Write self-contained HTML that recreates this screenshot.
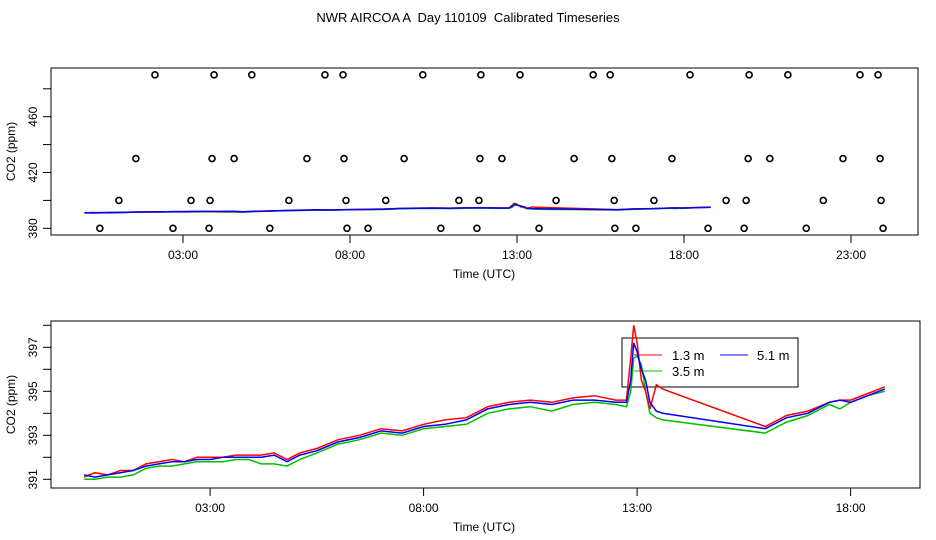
<!DOCTYPE html>
<html><head><meta charset="utf-8"><style>
body{margin:0;background:#fff;}
svg{display:block;font-family:"Liberation Sans",sans-serif;}
</style></head><body>
<svg id="c" width="936" height="540" xmlns="http://www.w3.org/2000/svg">
<rect width="936" height="540" fill="#fff"/>
<text x="468" y="22" font-size="13" text-anchor="middle" style="white-space:pre">NWR AIRCOA A  Day 110109  Calibrated Timeseries</text>
<g id="topPanel"></g>
<g id="botPanel"></g>
</svg>
<script>
const times=[0.05,0.3,0.6,0.9,1.2,1.5,1.8,2.1,2.4,2.7,3.0,3.3,3.6,3.9,4.2,4.5,4.8,5.1,5.5,6.0,6.5,7.0,7.5,8.0,8.5,9.0,9.5,10.0,10.5,11.0,11.5,12.0,12.5,12.75,12.85,12.92,13.0,13.1,13.2,13.3,13.45,13.6,16.0,16.5,17.0,17.5,17.75,18.0,18.4,18.8];
const red=[391.1,391.3,391.2,391.4,391.4,391.7,391.8,391.9,391.8,392.0,392.0,392.0,392.1,392.1,392.1,392.2,391.9,392.2,392.4,392.8,393.0,393.3,393.2,393.5,393.7,393.8,394.3,394.5,394.6,394.5,394.7,394.8,394.6,394.6,396.5,398.0,397.2,395.5,395.0,394.2,395.3,395.1,393.4,393.9,394.1,394.5,394.6,394.6,394.9,395.2];
const blue=[391.2,391.1,391.2,391.3,391.4,391.6,391.7,391.8,391.8,391.9,391.9,392.0,392.0,392.0,392.0,392.1,391.8,392.1,392.3,392.7,392.9,393.2,393.1,393.4,393.5,393.7,394.2,394.4,394.5,394.4,394.6,394.6,394.5,394.5,395.5,397.2,396.8,396.0,395.5,394.5,394.1,394.0,393.3,393.8,394.0,394.5,394.6,394.5,394.8,395.1];
const green=[391.0,391.0,391.1,391.1,391.2,391.5,391.6,391.6,391.7,391.8,391.8,391.8,391.9,391.9,391.7,391.7,391.6,391.9,392.2,392.6,392.8,393.1,393.0,393.3,393.4,393.5,394.0,394.2,394.3,394.1,394.4,394.5,394.4,394.3,395.0,396.5,396.6,396.2,395.0,394.0,393.8,393.7,393.1,393.6,393.9,394.4,394.2,394.5,394.8,395.0];
const dotT490=[2.16,3.93,5.06,7.25,7.79,10.18,11.92,13.09,15.28,15.79,18.18,19.95,21.11,23.27,23.81];
const dotT430=[1.59,3.87,4.53,6.71,7.82,9.62,11.89,12.55,14.71,15.84,17.64,19.92,20.57,22.76,23.87];
const dotT400=[1.08,3.24,3.81,6.17,7.88,9.07,11.26,11.86,14.17,15.91,17.1,19.26,19.86,22.17,23.9];
const dotT380=[0.51,2.7,3.78,5.6,7.91,8.54,10.72,11.8,13.66,15.93,16.56,18.72,19.8,21.66,23.96];
const xTickHours=[3,8,13,18,23];
const xTickLabels=["03:00","08:00","13:00","18:00","23:00"];
const topYTicks=[380,420,460];
const topYMinor=[400,440,480];
const botYTicks=[391,393,395,397];
const botYMinor=[392,394,396,398];

const NS="http://www.w3.org/2000/svg";
function mk(p,tag,a){const e=document.createElementNS(NS,tag);for(const k in a)e.setAttribute(k,a[k]);p.appendChild(e);return e;}

function panel(g,o){
  const box=mk(g,'rect',{x:o.x0,y:o.y0,width:o.x1-o.x0,height:o.y1-o.y0,fill:'none',stroke:'#000','stroke-width':1});
  
  
  const X=t=>o.ax+o.bx*t, Y=v=>o.ay-(v-o.v0)*o.by;
  xTickHours.forEach((h,i)=>{
    if(X(h)>o.x1)return;
    const l=mk(g,'line',{x1:X(h),x2:X(h),y1:o.y1,y2:o.y1+8,stroke:'#000'});
    
    
    const t=mk(g,'text',{x:X(h),y:o.y1+24,'font-size':12,'text-anchor':'middle'});t.textContent=xTickLabels[i];
    
    
  });
  o.yt.forEach(v=>{
    const l=mk(g,'line',{x1:o.x0-8,x2:o.x0,y1:Y(v),y2:Y(v),stroke:'#000'});
    
    
    const t=mk(g,'text',{x:0,y:0,'font-size':12,'text-anchor':'middle',transform:`translate(${o.x0-14},${Y(v)}) rotate(-90)`});t.textContent=v;
    
    
  });
  o.ym.forEach(v=>{
    const l=mk(g,'line',{x1:o.x0-8,x2:o.x0,y1:Y(v),y2:Y(v),stroke:'#000'});
    
    
  });
  const xl=mk(g,'text',{x:484,y:o.y1+43,'font-size':12,'text-anchor':'middle'});xl.textContent='Time (UTC)';
  
  
  const yl=mk(g,'text',{x:0,y:0,'font-size':12,'text-anchor':'middle',transform:`translate(15,${(o.y0+o.y1)/2}) rotate(-90)`});yl.textContent='CO2 (ppm)';
  
  
  if(o.before)o.before(g);
  [[green,'#00c000','series-3-5m'],[red,'#ff0000','series-1-3m'],[blue,'#0000ff','series-5-1m']].forEach(([s,c,n])=>{
    const p=mk(g,'polyline',{points:times.map((t,i)=>X(t)+','+Y(s[i])).join(' '),fill:'none',stroke:c,'stroke-width':1.5});
    
    
  });
  return {X,Y};
}

function legend(g){
  const lg=mk(g,'g',{});
  
  
  mk(lg,'rect',{x:622,y:338,width:176,height:49,fill:'#fff',stroke:'#000'});
  [[634,355,'#ff0000','1.3 m',672],[720,355,'#0000ff','5.1 m',757],[634,371,'#00c000','3.5 m',672]].forEach(([x,y,c,lab,tx])=>{
    const e=mk(lg,'g',{});
    
    
    mk(e,'line',{x1:x,x2:x+28,y1:y,y2:y,stroke:c,'stroke-width':1});
    const t=mk(e,'text',{x:tx,y:y+5,'font-size':13});t.textContent=lab;
  });
}

const topG=document.getElementById('topPanel');
const T=panel(topG,{x0:51,x1:918,y0:68,y1:235,ax:82.8,bx:33.4,ay:228.3,by:1.395,v0:380,yt:topYTicks,ym:topYMinor});
[[dotT490,490],[dotT430,430],[dotT400,400],[dotT380,380]].forEach(([arr,v])=>{
  arr.forEach(t=>{
    const c=mk(topG,'circle',{cx:T.X(t),cy:T.Y(v),r:3,fill:'none',stroke:'#000','stroke-width':1.6});
    
    
  });
});

const botG=document.getElementById('botPanel');
panel(botG,{x0:51,x1:920,y0:321,y1:488,ax:82,bx:42.7,ay:479.3,by:22,v0:391,yt:botYTicks,ym:botYMinor,before:legend});
</script>
</body></html>
